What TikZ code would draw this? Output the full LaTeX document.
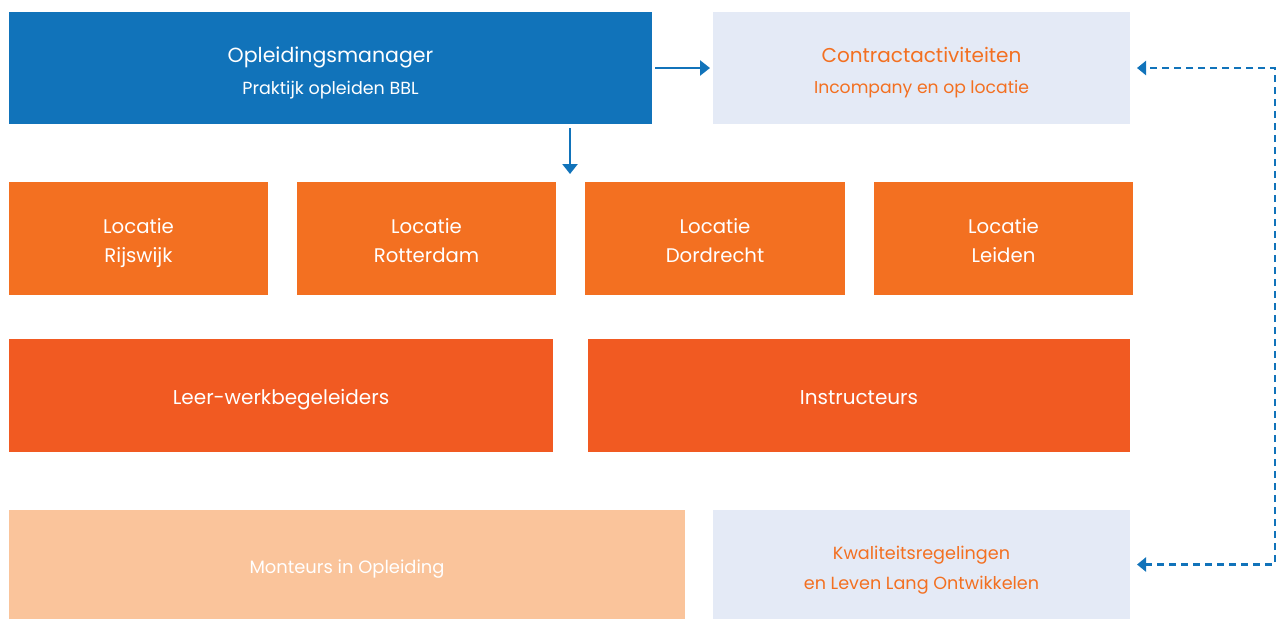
\documentclass[tikz,border=0pt]{standalone}
\usepackage{fontspec}
\setmainfont{Poppins}
\usetikzlibrary{arrows.meta,calc}
\definecolor{mblue}{HTML}{1173BA}
\definecolor{mlight}{HTML}{E4EAF6}
\definecolor{morange}{HTML}{F37021}
\definecolor{mdark}{HTML}{F15A22}
\definecolor{mpeach}{HTML}{FAC49B}
\newcommand{\mys}{\vrule width 0pt height \dimexpr0.7\baselineskip+4pt\relax depth \dimexpr0.3\baselineskip-4pt\relax}
\tikzset{
  box/.style={rectangle, inner sep=0pt, outer sep=0pt, align=center, draw=none},
  bluebox/.style={box, fill=mblue, text=white},
  lightbox/.style={box, fill=mlight, text=morange},
  locbox/.style={box, fill=morange, text=white, minimum width=259pt, minimum height=113pt, font=\fontsize{19.7}{29}\selectfont},
  darkbox/.style={box, fill=mdark, text=white, minimum height=113pt, font=\fontsize{20}{29}\selectfont},
  peachbox/.style={box, fill=mpeach, text=white},
  arr/.style={draw=mblue, line width=2.8pt, -{Triangle[length=10pt,width=15pt]}},
  dsh/.style={draw=mblue, line width=2.4pt, dash pattern=on 7pt off 5pt, {Triangle[length=9pt,width=14pt]}-{Triangle[length=9pt,width=14pt]}}
}
\begin{document}
\begin{tikzpicture}[x=1pt,y=-1pt]
\useasboundingbox (0,0) rectangle (1281,619);
\node[bluebox, minimum width=643pt, minimum height=112pt, font=\fontsize{20.5}{31}\selectfont] (om) at (330.5,68)
  {Opleidingsmanager\mys\\{\fontsize{17.5}{22}\selectfont Praktijk opleiden BBL}\mys};
\node[lightbox, minimum width=417pt, minimum height=112pt, font=\fontsize{20}{31}\selectfont] (ct) at (921.5,68)
  {Contractactiviteiten\mys\\{\fontsize{17.2}{22}\selectfont Incompany en op locatie}\mys};
\node[locbox] (l1) at (138.5,238.5) {Locatie\mys\\Rijswijk\mys};
\node[locbox] (l2) at (426.5,238.5) {Locatie\mys\\Rotterdam\mys};
\node[locbox, minimum width=260pt] (l3) at (715,238.5) {Locatie\mys\\Dordrecht\mys};
\node[locbox] (l4) at (1003.5,238.5) {Locatie\mys\\Leiden\mys};
\node[darkbox, minimum width=544pt] (lw) at (281,395) {Leer-werkbegeleiders\mys};
\node[darkbox, minimum width=542pt] (in) at (859,395) {Instructeurs\mys};
\node[peachbox, minimum width=676pt, minimum height=109pt, font=\fontsize{17.9}{26}\selectfont] (mo) at (347,564.5) {Monteurs in Opleiding\mys};
\node[lightbox, minimum width=417pt, minimum height=109pt, font=\fontsize{17.6}{29}\selectfont] (kw) at (921.5,564.5) {Kwaliteitsregelingen\mys\\en Leven Lang Ontwikkelen\mys};
\draw[arr] ([xshift=3pt]om.east) -- ([xshift=-3pt]ct.west);
\draw[arr] ([xshift=239.5pt,yshift=-4pt]om.south) -- ([xshift=-15pt,yshift=8pt]l3.north west);
\draw[dsh] ([xshift=7pt]kw.east) -- ++(138,0) |- ([xshift=7pt]ct.east);
\end{tikzpicture}
\end{document}
